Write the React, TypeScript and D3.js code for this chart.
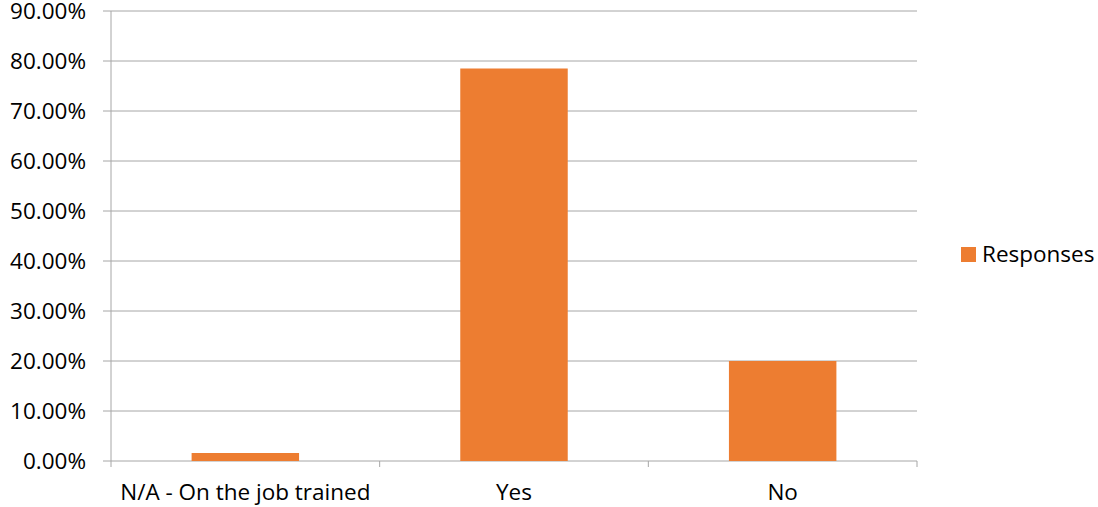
import React from "react";
import * as d3 from "d3";

const categories = ["N/A - On the job trained", "Yes", "No"];
const responses = [0.016, 0.785, 0.2];
const yTicks = [0, 0.1, 0.2, 0.3, 0.4, 0.5, 0.6, 0.7, 0.8, 0.9];
const seriesName = "Responses";

const W = 1098;
const H = 507;
const left = 111;
const right = 917;
const top = 11;
const bottom = 461;
const FONT = "'Open Sans', sans-serif";
const FS = 22.5;
const BAR = "#ED7D31";
const GRID = "#A6A6A6";

export default function App() {
  const x = d3.scaleBand<string>().domain(categories).range([left, right]).padding(0);
  const y = d3.scaleLinear().domain([0, 0.9]).range([bottom, top]);
  const bw = x.bandwidth() * 0.4;
  const fmt = (v: number) => (v * 100).toFixed(2) + "%";
  const boundaries = [left, ...categories.map((c) => (x(c) as number) + x.bandwidth())];

  return (
    <svg
      width={W}
      height={H}
      style={{ position: "absolute", left: 0, top: 0, background: "#fff" }}
      fontFamily={FONT}
    >
      {yTicks.map((t) => (
        <g key={t}>
          <line x1={103} x2={right} y1={y(t)} y2={y(t)} stroke={GRID} strokeWidth={1} />
          <text x={86} y={y(t) + 8} textAnchor="end" fontSize={FS} fill="#000">
            {fmt(t)}
          </text>
        </g>
      ))}
      <line x1={left} x2={left} y1={top} y2={bottom} stroke={GRID} strokeWidth={1} />
      {boundaries.map((b, i) => (
        <line key={i} x1={b} x2={b} y1={bottom} y2={bottom + 6} stroke={GRID} strokeWidth={1} />
      ))}
      {categories.map((c, i) => (
        <rect
          key={c}
          x={(x(c) as number) + (x.bandwidth() - bw) / 2}
          y={y(responses[i])}
          width={bw}
          height={bottom - y(responses[i])}
          fill={BAR}
        />
      ))}
      {categories.map((c) => (
        <text
          key={c}
          x={(x(c) as number) + x.bandwidth() / 2}
          y={500}
          textAnchor="middle"
          fontSize={FS}
          fill="#000"
        >
          {c}
        </text>
      ))}
      <rect x={961} y={247} width={15} height={15} fill={BAR} />
      <text x={982} y={262} fontSize={FS} fill="#000">
        {seriesName}
      </text>
    </svg>
  );
}
